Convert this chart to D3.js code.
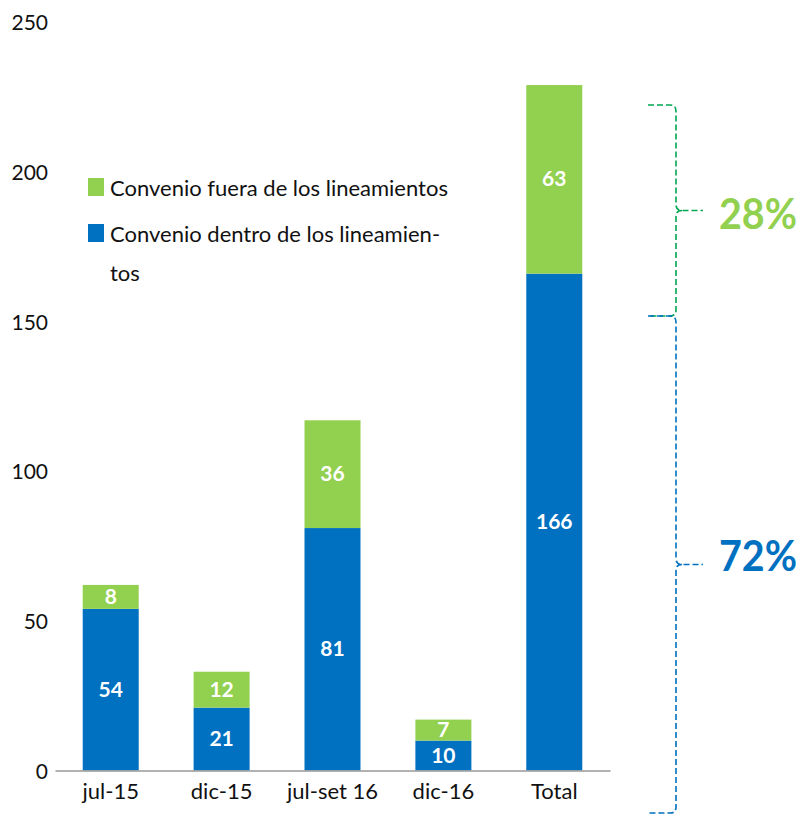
<!DOCTYPE html>
<html>
<head>
<meta charset="utf-8">
<script src="https://cdn.jsdelivr.net/npm/d3@7"></script>
<style>
  body { margin: 0; background: #fff; }
  text { font-family: Lato, "Open Sans", sans-serif; }
</style>
</head>
<body>
<div id="chart"></div>
<script>
var categories = ["jul-15", "dic-15", "jul-set 16", "dic-16", "Total"];
var dentro = [54, 21, 81, 10, 166];
var fuera = [8, 12, 36, 7, 63];
var yTicks = [0, 50, 100, 150, 200, 250];
var legendLabels = ["Convenio fuera de los lineamientos", "Convenio dentro de los lineamien-", "tos"];
var shares = ["28%", "72%"];

var width = 805, height = 815;
var blue = "#0070c0", green = "#92d050";

var svg = d3.select("#chart")
  .append("svg")
  .attr("width", width)
  .attr("height", height);

var x = d3.scaleBand()
  .domain(categories)
  .range([55, 610])
  .paddingInner(0.495)
  .paddingOuter(0.25);

var y = d3.scaleLinear()
  .domain([0, 250])
  .range([770.5, 22.2]);

// y tick labels, no axis line
svg.selectAll(".ytick")
  .data(yTicks)
  .enter()
  .append("text")
  .attr("x", 48)
  .attr("y", function(d) { return y(d) + 8; })
  .attr("text-anchor", "end")
  .attr("fill", "#111")
  .style("font-size", "21px")
  .text(function(d) { return d; });

// stacked bars
var g = svg.selectAll(".bar")
  .data(categories)
  .enter()
  .append("g");

g.append("rect")
  .attr("x", function(d) { return x(d); })
  .attr("y", function(d, i) { return y(dentro[i]); })
  .attr("width", x.bandwidth())
  .attr("height", function(d, i) { return y(0) - y(dentro[i]); })
  .attr("fill", blue);

g.append("rect")
  .attr("x", function(d) { return x(d); })
  .attr("y", function(d, i) { return y(dentro[i] + fuera[i]); })
  .attr("width", x.bandwidth())
  .attr("height", function(d, i) { return y(dentro[i]) - y(dentro[i] + fuera[i]); })
  .attr("fill", green);

g.append("text")
  .attr("x", function(d) { return x(d) + x.bandwidth() / 2; })
  .attr("y", function(d, i) { return (y(0) + y(dentro[i])) / 2 + 7; })
  .attr("text-anchor", "middle")
  .attr("fill", "#fff")
  .style("font-size", "21px")
  .style("font-weight", "bold")
  .text(function(d, i) { return dentro[i]; });

g.append("text")
  .attr("x", function(d) { return x(d) + x.bandwidth() / 2; })
  .attr("y", function(d, i) { return (y(dentro[i]) + y(dentro[i] + fuera[i])) / 2 + 7; })
  .attr("text-anchor", "middle")
  .attr("fill", "#fff")
  .style("font-size", "21px")
  .style("font-weight", "bold")
  .text(function(d, i) { return fuera[i]; });

// x axis
var xAxis = svg.append("g")
  .attr("transform", "translate(0," + y(0) + ")")
  .call(d3.axisBottom(x).tickSize(0).tickPadding(13));
xAxis.select(".domain").attr("stroke", "#999").attr("stroke-width", 1.5);
xAxis.selectAll("text")
  .attr("fill", "#111")
  .style("font-size", "22px")
  .style("font-family", "Lato, 'Open Sans', sans-serif");

// legend
svg.append("rect").attr("x", 88).attr("y", 178).attr("width", 16).attr("height", 18).attr("fill", green);
svg.append("rect").attr("x", 88).attr("y", 224).attr("width", 16).attr("height", 18).attr("fill", blue);
svg.selectAll(".leg")
  .data(legendLabels)
  .enter()
  .append("text")
  .attr("x", 110)
  .attr("y", function(d, i) { return [196, 242, 281][i]; })
  .attr("fill", "#111")
  .style("font-size", "22px")
  .text(function(d) { return d; });

// dashed braces
function brace(top, bottom, color) {
  var mid = (top + bottom) / 2, x0 = 648, x1 = 676, r = 6;
  var path = "M" + x0 + "," + top +
    " L" + (x1 - r) + "," + top +
    " Q" + x1 + "," + top + " " + x1 + "," + (top + r) +
    " L" + x1 + "," + (mid - r) +
    " Q" + x1 + "," + mid + " " + (x1 + r) + "," + mid +
    " L703," + mid +
    " M" + (x1 + r) + "," + mid +
    " Q" + x1 + "," + mid + " " + x1 + "," + (mid + r) +
    " L" + x1 + "," + (bottom - r) +
    " Q" + x1 + "," + bottom + " " + (x1 - r) + "," + bottom +
    " L" + x0 + "," + bottom;
  svg.append("path")
    .attr("d", path)
    .attr("fill", "none")
    .attr("stroke", color)
    .attr("stroke-width", 1.6)
    .attr("stroke-dasharray", "6,3");
}
brace(105, 316, "#00a651");
brace(316, 813, blue);

svg.append("text")
  .attr("x", 719).attr("y", 229)
  .attr("fill", green)
  .attr("textLength", 78)
  .attr("lengthAdjust", "spacingAndGlyphs")
  .style("font-size", "42px")
  .style("font-weight", "bold")
  .text(shares[0]);

svg.append("text")
  .attr("x", 719).attr("y", 571)
  .attr("fill", blue)
  .attr("textLength", 78)
  .attr("lengthAdjust", "spacingAndGlyphs")
  .style("font-size", "42px")
  .style("font-weight", "bold")
  .text(shares[1]);
</script>
</body>
</html>
